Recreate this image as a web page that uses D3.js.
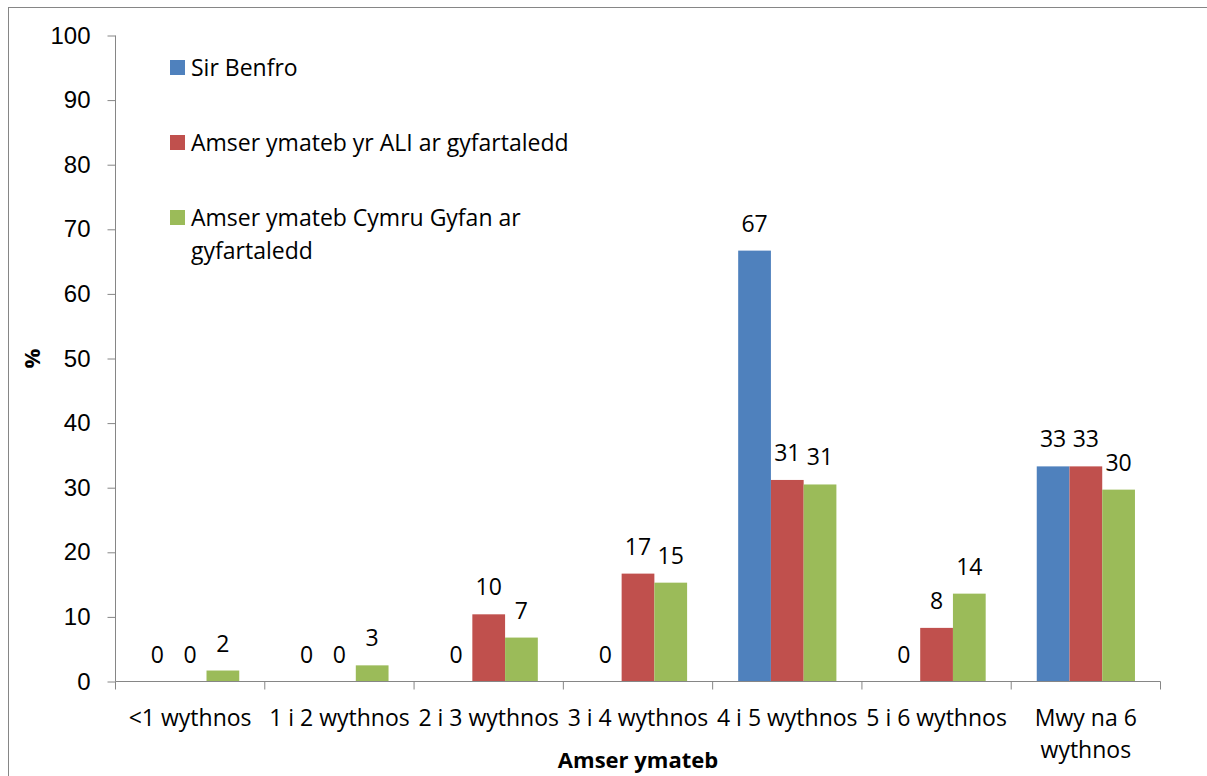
<!DOCTYPE html>
<html lang="cy">
<head>
    <meta charset="UTF-8">
    <title>Amser ymateb</title>
    <script src="https://d3js.org/d3.v7.min.js"></script>
    <style>
        body, html {
            margin: 0;
            padding: 0;
            overflow: hidden;
            background: #fff;
        }
        svg {
            display: block;
            font-family: "Open Sans", "Noto Sans", sans-serif;
        }
        .tick text {
            font-size: 23px;
            fill: #000;
        }
        .ytick .tick text {
            font-size: 24px;
        }
        .val {
            font-size: 23px;
            text-anchor: middle;
        }
        .legend text {
            font-size: 23px;
        }
        .title {
            font-size: 22px;
            font-weight: bold;
            text-anchor: middle;
        }
    </style>
</head>
<body>
    <svg width="1207" height="776" id="chart"></svg>

    <script>
        const categories = ["<1 wythnos", "1 i 2 wythnos", "2 i 3 wythnos", "3 i 4 wythnos",
                            "4 i 5 wythnos", "5 i 6 wythnos", "Mwy na 6 wythnos"];
        const seriesNames = ["Sir Benfro", "Amser ymateb yr ALI ar gyfartaledd",
                             "Amser ymateb Cymru Gyfan ar gyfartaledd"];
        const sirBenfro = [0, 0, 0, 0, 66.7, 0, 33.3];
        const aliAvg = [0, 0, 10.4, 16.7, 31.2, 8.3, 33.3];
        const cymruAvg = [1.7, 2.5, 6.8, 15.3, 30.5, 13.6, 29.7];
        const colors = ["#4F81BD", "#C0504D", "#9BBB59"];
        const yTicks = [0, 10, 20, 30, 40, 50, 60, 70, 80, 90, 100];

        const allSeries = [sirBenfro, aliAvg, cymruAvg];
        const data = categories.map((c, i) => ({
            cat: c,
            values: allSeries.map((s, j) => ({ key: seriesNames[j], idx: j, value: s[i] }))
        }));

        const svg = d3.select("#chart");

        // outer chart frame
        svg.append("rect")
            .attr("x", 8.5).attr("y", 7.5)
            .attr("width", 1300).attr("height", 900)
            .attr("fill", "none").attr("stroke", "#868686").attr("stroke-width", 1);

        const plotLeft = 115.5, plotRight = 1160.5, plotTop = 35.5, plotBottom = 681.5;

        const x0 = d3.scaleBand().domain(categories).range([plotLeft, plotRight]).padding(0);
        const x1 = d3.scaleBand().domain(d3.range(3)).range([0, x0.bandwidth()])
            .paddingInner(0).paddingOuter(0.78);
        const y = d3.scaleLinear().domain([0, 100]).range([plotBottom, plotTop]);

        // y axis
        const yAxis = svg.append("g")
            .attr("class", "ytick")
            .attr("transform", `translate(${plotLeft},0)`)
            .call(d3.axisLeft(y).tickValues(yTicks).tickSize(8).tickPadding(17));
        yAxis.selectAll("line, path").attr("stroke", "#868686");
        yAxis.select(".domain").attr("d", `M0,${plotTop}V${plotBottom}`);

        // bars
        const groups = svg.append("g").selectAll("g")
            .data(data)
            .join("g")
            .attr("transform", d => `translate(${x0(d.cat)},0)`);

        groups.selectAll("rect")
            .data(d => d.values)
            .join("rect")
            .attr("x", d => x1(d.idx))
            .attr("y", d => y(d.value))
            .attr("width", x1.bandwidth())
            .attr("height", d => y(0) - y(d.value))
            .attr("fill", d => colors[d.idx]);

        groups.selectAll("text.val")
            .data(d => d.values)
            .join("text")
            .attr("class", "val")
            .attr("x", d => x1(d.idx) + x1.bandwidth() / 2)
            .attr("y", d => y(d.value) - 19)
            .text(d => Math.round(d.value));

        // x axis
        const xAxis = svg.append("g")
            .attr("transform", `translate(0,${plotBottom})`)
            .call(d3.axisBottom(x0).tickSize(0).tickPadding(0));
        xAxis.select(".domain").attr("stroke", "#868686").attr("d", `M${plotLeft},0H${plotRight}`);
        xAxis.selectAll(".tick text").remove();
        const boundaries = categories.map(c => x0(c)).concat([plotRight]);
        xAxis.selectAll("line.sep")
            .data(boundaries)
            .join("line")
            .attr("class", "sep")
            .attr("x1", d => d).attr("x2", d => d)
            .attr("y1", 0).attr("y2", 8)
            .attr("stroke", "#868686");

        const catLabels = svg.append("g").attr("class", "tick");
        const wrapped = { "Mwy na 6 wythnos": ["Mwy na 6", "wythnos"] };
        categories.forEach(c => {
            const lines = wrapped[c] || [c];
            const cx = x0(c) + x0.bandwidth() / 2;
            const t = catLabels.append("text")
                .attr("x", cx)
                .attr("y", 726)
                .attr("text-anchor", "middle");
            lines.forEach((l, i) => {
                t.append("tspan")
                    .attr("x", cx)
                    .attr("dy", i === 0 ? 0 : 32)
                    .text(l);
            });
        });

        // axis titles
        svg.append("text").attr("class", "title")
            .attr("x", 638).attr("y", 768)
            .text("Amser ymateb");
        svg.append("text").attr("class", "title")
            .attr("transform", `translate(40,${(plotTop + plotBottom) / 2}) rotate(-90)`)
            .text("%");

        // legend
        const legendRows = [["Sir Benfro"], ["Amser ymateb yr ALI ar gyfartaledd"],
                            ["Amser ymateb Cymru Gyfan ar", "gyfartaledd"]];
        const legend = svg.append("g").attr("class", "legend");
        seriesNames.forEach((s, i) => {
            const gy = 68 + i * 75;
            legend.append("rect")
                .attr("x", 170).attr("y", gy - 8)
                .attr("width", 15).attr("height", 15)
                .attr("fill", colors[i]);
            const t = legend.append("text").attr("x", 191).attr("y", gy + 8);
            legendRows[i].forEach((l, k) => {
                t.append("tspan").attr("x", 191).attr("dy", k === 0 ? 0 : 33).text(l);
            });
        });
    </script>
</body>
</html>
